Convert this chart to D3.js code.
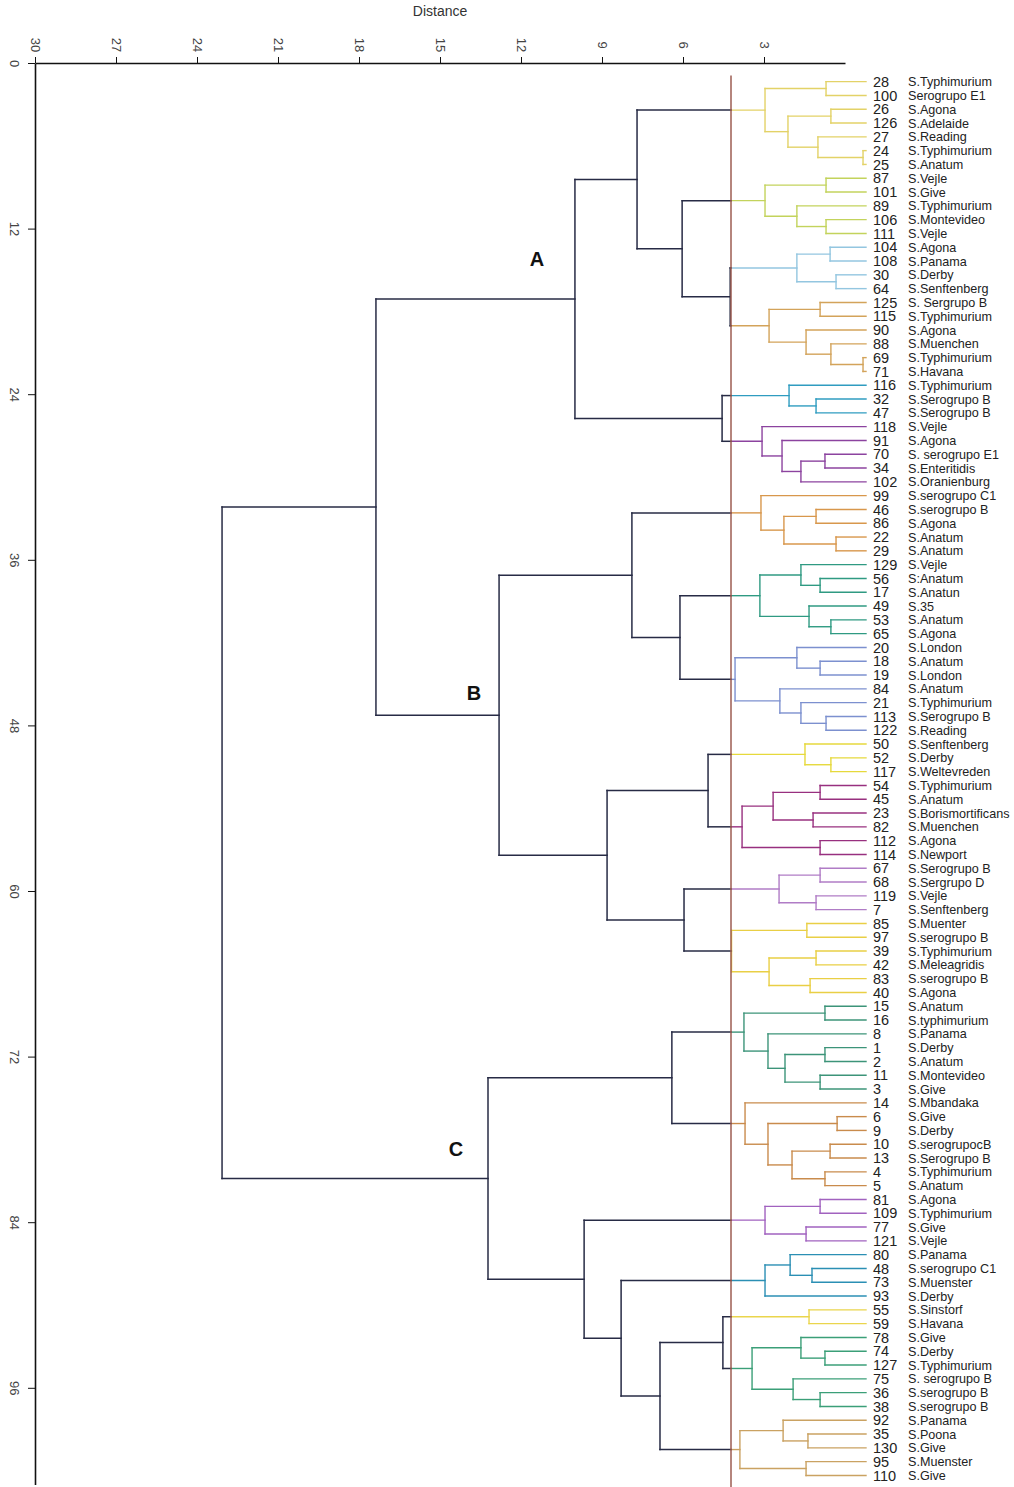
<!DOCTYPE html>
<html>
<head>
<meta charset="utf-8">
<script src="https://cdn.jsdelivr.net/npm/d3@7"></script>
<style>
  body { margin: 0; background: #fff; }
  svg { display: block; }
  text { font-family: "Liberation Sans", Arial, sans-serif; }
</style>
</head>
<body>
<svg id="chart" width="1014" height="1487"></svg>
<script>
// ---- Leaves, top to bottom ----
const leafIds = [28,100,26,126,27,24,25,87,101,89,106,111,104,108,30,64,125,115,90,88,69,71,
  116,32,47,118,91,70,34,102,99,46,86,22,29,129,56,17,49,53,65,20,18,19,84,21,113,122,
  50,52,117,54,45,23,82,112,114,67,68,119,7,85,97,39,42,83,40,15,16,8,1,2,11,3,14,6,9,
  10,13,4,5,81,109,77,121,80,48,73,93,55,59,78,74,127,75,36,38,92,35,130,95,110];

const leafNames = ["S.Typhimurium","Serogrupo E1","S.Agona","S.Adelaide","S.Reading","S.Typhimurium","S.Anatum",
  "S.Vejle","S.Give","S.Typhimurium","S.Montevideo","S.Vejle",
  "S.Agona","S.Panama","S.Derby","S.Senftenberg",
  "S. Sergrupo B","S.Typhimurium","S.Agona","S.Muenchen","S.Typhimurium","S.Havana",
  "S.Typhimurium","S.Serogrupo B","S.Serogrupo B",
  "S.Vejle","S.Agona","S. serogrupo E1","S.Enteritidis","S.Oranienburg",
  "S.serogrupo C1","S.serogrupo B","S.Agona","S.Anatum","S.Anatum",
  "S.Vejle","S:Anatum","S.Anatun","S.35","S.Anatum","S.Agona",
  "S.London","S.Anatum","S.London","S.Anatum","S.Typhimurium","S.Serogrupo B","S.Reading",
  "S.Senftenberg","S.Derby","S.Weltevreden",
  "S.Typhimurium","S.Anatum","S.Borismortificans","S.Muenchen","S.Agona","S.Newport",
  "S.Serogrupo B","S.Sergrupo D","S.Vejle","S.Senftenberg",
  "S.Muenter","S.serogrupo B","S.Typhimurium","S.Meleagridis","S.serogrupo B","S.Agona",
  "S.Anatum","S.typhimurium","S.Panama","S.Derby","S.Anatum","S.Montevideo","S.Give",
  "S.Mbandaka","S.Give","S.Derby","S.serogrupocB","S.Serogrupo B","S.Typhimurium","S.Anatum",
  "S.Agona","S.Typhimurium","S.Give","S.Vejle",
  "S.Panama","S.serogrupo C1","S.Muenster","S.Derby",
  "S.Sinstorf","S.Havana",
  "S.Give","S.Derby","S.Typhimurium","S. serogrupo B","S.serogrupo B","S.serogrupo B",
  "S.Panama","S.Poona","S.Give","S.Muenster","S.Give"];

// ---- Merges: [height, left, right]; a bare number is a leaf id ----
const cl01 = [3.74, [1.48, 28, 100], [2.89, [1.30, 26, 126], [1.78, 27, [0.11, 24, 25]]]];
const cl02 = [3.74, [1.48, 87, 101], [2.56, 89, [1.48, 106, 111]]];
const cl03 = [2.56, [1.33, 104, 108], [1.11, 30, 64]];
const cl04 = [3.59, [1.70, 125, 115], [2.22, 90, [1.30, 88, [0.11, 69, 71]]]];
const cl05 = [2.85, 116, [1.85, 32, 47]];
const cl06 = [3.85, 118, [3.11, 91, [2.41, [1.52, 70, 34], 102]]];
const cl07 = [3.89, 99, [3.04, [1.85, 46, 86], [1.11, 22, 29]]];
const cl08 = [3.93, [2.41, 129, [1.70, 56, 17]], [2.11, 49, [1.30, 53, 65]]];
const cl09 = [4.85, [2.56, 20, [1.70, 18, 19]], [3.19, 84, [2.41, 21, [1.48, 113, 122]]]];
const cl10 = [2.26, 50, [1.30, 52, 117]];
const cl11 = [4.59, [3.44, [1.70, 54, 45], [1.96, 23, 82]], [1.70, 112, 114]];
const cl12 = [3.22, [1.70, 67, 68], [1.85, 119, 7]];
const cl13 = [4.98, [2.19, 85, 97], [3.59, [1.85, 39, 42], [2.07, 83, 40]]];
const cl14 = [4.52, [1.52, 15, 16], [3.63, 8, [3.00, [1.52, 1, 2], [1.70, 11, 3]]]];
const cl15 = [4.48, 14, [3.63, [1.07, 6, 9], [2.74, [1.33, 10, 13], [1.52, 4, 5]]]];
const cl16 = [3.74, [1.70, 81, 109], [2.22, 77, 121]];
const cl17 = [3.74, [2.81, 80, [2.00, 48, 73]], 93];
const cl18 = [2.11, 55, 59];
const cl19 = [4.22, [2.41, 78, [1.52, 74, 127]], [2.70, 75, [1.70, 36, 38]]];
const cl20 = [4.67, [3.07, 92, [2.15, 35, 130]], [2.22, 95, 110]];

const groupA = [10.78, [8.48, cl01, [6.81, cl02, [5.03, cl03, cl04]]], [5.33, cl05, cl06]];
const groupB = [13.59, [8.67, cl07, [6.89, cl08, cl09]], [9.59, [5.85, cl10, cl11], [6.74, cl12, cl13]]];
const groupC = [14.00, [7.19, cl14, cl15], [10.44, cl16, [9.07, cl17, [7.63, [5.30, cl18, cl19], cl20]]]];
const treeData = [23.85, [18.15, groupA, groupB], groupC];

const cutHeight = 5.0;
const groupLabels = ["A", "B", "C"];
const groupHeights = [10.78, 13.59, 14.00];

const clusterColors = ["#e3d267","#c3d35c","#93c6e0","#d3a35a","#2f9cc0","#8c439f","#d8974c",
  "#2f9a82","#7c90cf","#e6d93c","#98307f","#b07cc6","#e9cf45","#3c9479","#c98b4c",
  "#a162bf","#2b8fb4","#ead54d","#3b9f78","#caa262"];

// ---- Axes ----
const distTicks = [30, 27, 24, 21, 18, 15, 12, 9, 6, 3];
const rowTicks = [0, 12, 24, 36, 48, 60, 72, 84, 96];

const darkLine = "#272b45";
const cutColor = "#9c5d52";

const svg = d3.select("#chart");
const W = 1014, H = 1487;

// Distance scale of the axis frame, and of the tree (tips at zero run a little past the frame)
const axisX = d3.scaleLinear().domain([30, 0]).range([35, 845]);
const treeX = d3.scaleLinear().domain([30, 0]).range([56, 866]);
const y = d3.scaleLinear().domain([0, 103]).range([63, 1484.4]);
const leafOffset = 1.35;

// Title
svg.append("text").attr("x", 440).attr("y", 16).attr("text-anchor", "middle")
  .attr("font-size", 14).attr("fill", "#333").text("Distance");

// Top axis
const gTop = svg.append("g").attr("transform", `translate(0,${y(0)})`)
  .call(d3.axisTop(axisX).tickValues(distTicks).tickSize(6).tickSizeOuter(0).tickFormat(d3.format("d")));
gTop.select(".domain").attr("stroke", "#111").attr("stroke-width", 1.4);
gTop.selectAll(".tick line").attr("stroke", "#111");
gTop.selectAll(".tick text")
  .attr("y", 0).attr("dy", "0.35em")
  .attr("transform", "translate(0,-18) rotate(90)")
  .attr("text-anchor", "middle").attr("font-size", 13).attr("fill", "#444")
  .attr("font-family", "Liberation Sans, Arial, sans-serif");

// Left axis
const gLeft = svg.append("g").attr("transform", `translate(${axisX(30)},0)`)
  .call(d3.axisLeft(y).tickValues(rowTicks).tickSize(7).tickSizeOuter(0).tickFormat(d3.format("d")));
gLeft.select(".domain").attr("stroke", "#111").attr("stroke-width", 1.6);
gLeft.selectAll(".tick line").attr("stroke", "#111");
gLeft.selectAll(".tick text")
  .attr("x", 0).attr("dy", "0.35em")
  .attr("transform", "translate(-20,0) rotate(90)")
  .attr("text-anchor", "middle").attr("font-size", 13).attr("fill", "#444")
  .attr("font-family", "Liberation Sans, Arial, sans-serif");

// ---- Hierarchy ----
const root = d3.hierarchy(treeData, d => Array.isArray(d) ? d.slice(1) : null);
const leafIndex = new Map(leafIds.map((id, i) => [id, i]));
root.each(n => { n.h = Array.isArray(n.data) ? n.data[0] : 0; });
root.eachAfter(n => {
  n.px = treeX(n.h);
  n.py = n.children ? d3.mean(n.children, c => c.py) : y(leafIndex.get(n.data) + leafOffset);
});
let k = -1;
root.eachBefore(n => {
  if (n.h < cutHeight && (!n.parent || n.parent.h >= cutHeight)) { k += 1; n.cluster = k; }
  else n.cluster = n.parent ? n.parent.cluster : undefined;
});
const colorOf = n => n.h < cutHeight ? clusterColors[n.cluster] : darkLine;

// Segments of the dendrogram
const segs = [];
root.descendants().forEach(n => {
  if (n.children) {
    const ys = n.children.map(c => c.py);
    segs.push({ x1: n.px, x2: n.px, y1: d3.min(ys), y2: d3.max(ys), c: colorOf(n), dark: n.h >= cutHeight });
  }
  if (n.parent) {
    const xp = n.parent.px;
    if (n.h < cutHeight && n.parent.h >= cutHeight) {
      segs.push({ x1: n.px, x2: treeX(cutHeight), y1: n.py, y2: n.py, c: colorOf(n), dark: false });
      segs.push({ x1: treeX(cutHeight), x2: xp, y1: n.py, y2: n.py, c: darkLine, dark: true });
    } else {
      segs.push({ x1: n.px, x2: xp, y1: n.py, y2: n.py, c: colorOf(n.parent), dark: n.parent.h >= cutHeight });
    }
  }
});

svg.append("g").selectAll("line").data(segs.filter(s => !s.dark)).join("line")
  .attr("x1", d => d.x1).attr("x2", d => d.x2).attr("y1", d => d.y1).attr("y2", d => d.y2)
  .attr("stroke", d => d.c).attr("stroke-width", 1.4).attr("stroke-linecap", "square");

svg.append("g").selectAll("line").data(segs.filter(s => s.dark)).join("line")
  .attr("x1", d => d.x1).attr("x2", d => d.x2).attr("y1", d => d.y1).attr("y2", d => d.y2)
  .attr("stroke", d => d.c).attr("stroke-width", 1.5).attr("stroke-linecap", "square");

// Cut line
svg.append("line")
  .attr("x1", treeX(cutHeight)).attr("x2", treeX(cutHeight))
  .attr("y1", y(0.9)).attr("y2", H)
  .attr("stroke", cutColor).attr("stroke-width", 1.5);

// Leaf labels
const leaves = root.leaves();
const gLab = svg.append("g");
gLab.selectAll("text.num").data(leaves).join("text").attr("class", "num")
  .attr("x", treeX(0) + 7).attr("y", d => d.py).attr("dy", "0.36em")
  .attr("font-size", 14.5).attr("fill", "#222").text(d => d.data);
gLab.selectAll("text.name").data(leaves).join("text").attr("class", "name")
  .attr("x", treeX(0) + 42).attr("y", d => d.py).attr("dy", "0.36em")
  .attr("font-size", 12.6).attr("fill", "#222")
  .text(d => leafNames[leafIndex.get(d.data)]);

// Group letters beside their junctions
const labelShift = [[-38, -40], [-25, -22], [-32, -30]];
groupLabels.forEach((lab, i) => {
  const node = root.descendants().find(n => n.children && Math.abs(n.h - groupHeights[i]) < 1e-6);
  svg.append("text")
    .attr("x", node.px + labelShift[i][0]).attr("y", node.py + labelShift[i][1])
    .attr("dy", "0.35em").attr("text-anchor", "middle")
    .attr("font-size", 20).attr("font-weight", "bold").attr("fill", "#111")
    .text(lab);
});
</script>
</body>
</html>
